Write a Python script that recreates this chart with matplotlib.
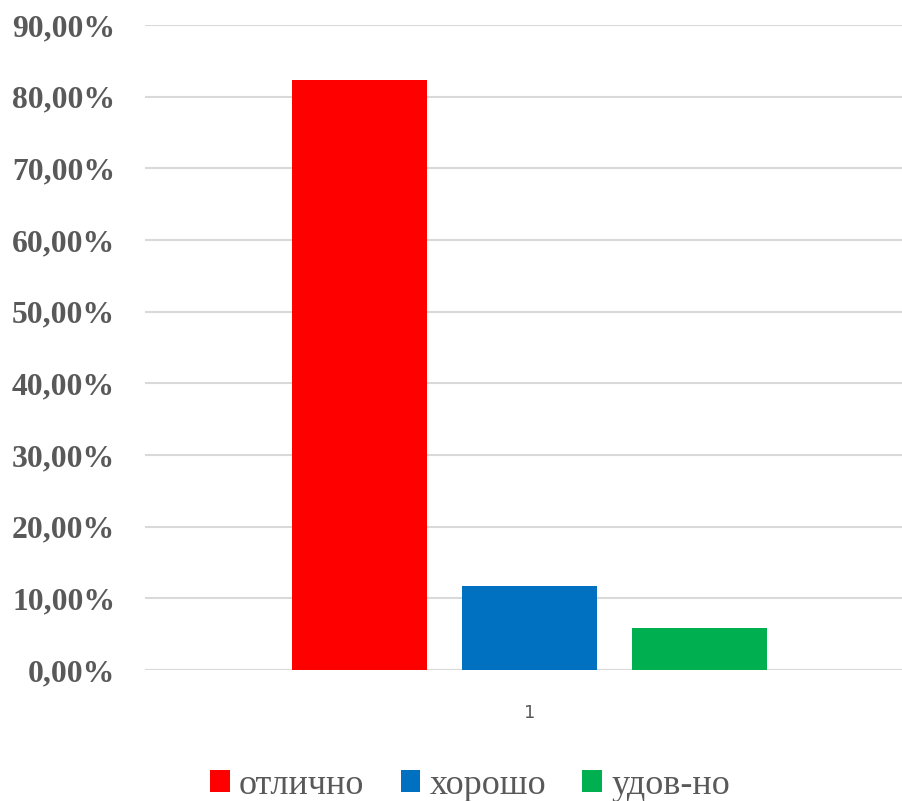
import matplotlib
matplotlib.use("Agg")
import matplotlib.pyplot as plt
from matplotlib.patches import Patch

categories = ["1"]
series_names = ["отлично", "хорошо", "удов-но"]
series_values = [0.823, 0.117, 0.059]
series_colors = ["#FF0000", "#0070C0", "#00B050"]
y_ticks = [0.0, 0.1, 0.2, 0.3, 0.4, 0.5, 0.6, 0.7, 0.8, 0.9]
y_tick_labels = ["0,00%", "10,00%", "20,00%", "30,00%", "40,00%", "50,00%",
                 "60,00%", "70,00%", "80,00%", "90,00%"]

W, H = 903, 801
fig = plt.figure(figsize=(W / 100, H / 100), dpi=100)
fig.patch.set_facecolor("white")

left_px, right_px, top_px, bottom_px = 145, 903, 25, 670
ax = fig.add_axes([left_px / W, 1 - bottom_px / H, (right_px - left_px) / W, (bottom_px - top_px) / H])
ax.set_facecolor("none")

bar_w = 135 / 770
step = 170 / 770
for i, (name, val, col) in enumerate(zip(series_names, series_values, series_colors)):
    ax.bar(0 + (i - 1) * step, val, width=bar_w, color=col, label=name, zorder=3)

ax.set_xlim(-0.5, -0.5 + (right_px - left_px) / 770)
ax.set_ylim(0, 0.9)
ax.set_yticks(y_ticks)
ax.set_yticklabels(y_tick_labels, fontfamily="Liberation Serif", fontweight="bold",
                   fontsize=22.8, color="#595959")
ax.set_xticks([0])
ax.set_xticklabels(categories, fontfamily="DejaVu Sans", fontsize=13, color="#595959")
ax.tick_params(axis="both", length=0)
ax.tick_params(axis="y", pad=21.5)
ax.tick_params(axis="x", pad=24.5)
ax.grid(axis="y", color="#D9D9D9", linewidth=1.5, zorder=0)
for s in ax.spines.values():
    s.set_visible(False)
ax.axhline(0, color="#D9D9D9", linewidth=1.5, zorder=2)

handles = [Patch(facecolor=c, edgecolor="none") for c in series_colors]
fig.legend(handles, series_names, loc="center", bbox_to_anchor=(470 / W, 1 - 785 / H),
           ncol=3, frameon=False, prop={"family": "Liberation Serif", "size": 26},
           labelcolor="#595959", handlelength=0.55, handleheight=0.55,
           handletextpad=0.25, columnspacing=1.0, borderpad=0.1)

fig.savefig("out.png", dpi=100, facecolor="white")
